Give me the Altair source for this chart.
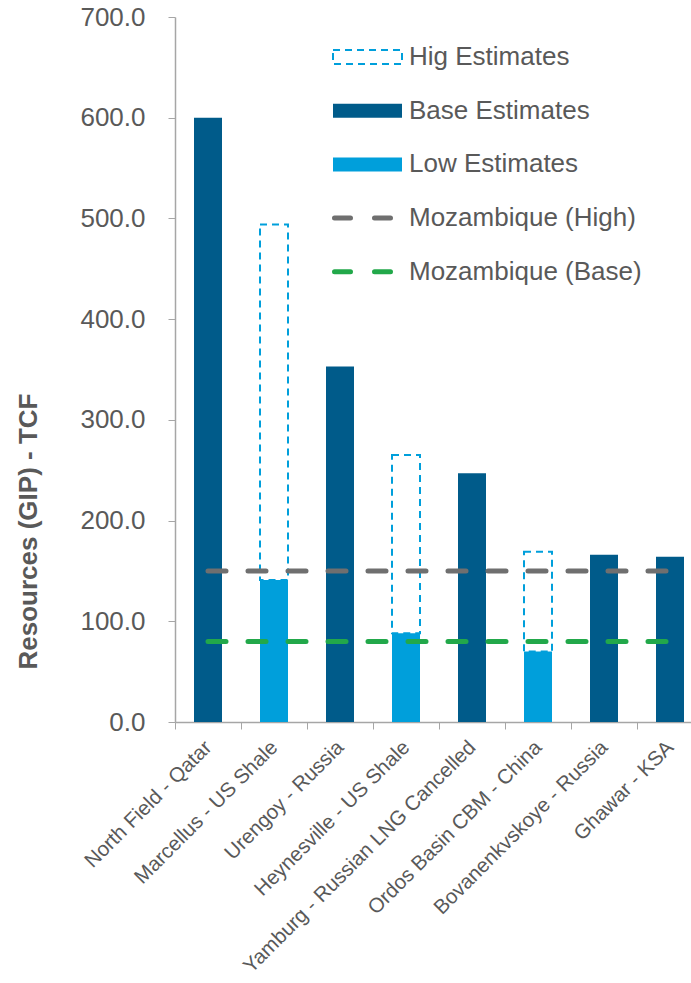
import altair as alt
import pandas as pd

# Gas fields and their resource estimates (TCF)
categories = [
    "North Field - Qatar",
    "Marcellus - US Shale",
    "Urengoy - Russia",
    "Heynesville - US Shale",
    "Yamburg - Russian LNG Cancelled",
    "Ordos Basin CBM - China",
    "Bovanenkvskoye - Russia",
    "Ghawar - KSA",
]
base_estimates = [600, None, 353, None, 247, None, 166, 164]
low_estimates = [None, 141, None, 88, None, 70, None, None]
high_estimates = [None, 494, None, 265, None, 169, None, None]
mozambique_high = 150
mozambique_base = 80

legend_labels = [
    "Hig Estimates",
    "Base Estimates",
    "Low Estimates",
    "Mozambique (High)",
    "Mozambique (Base)",
]

DARK_BLUE = "#005B8A"
LIGHT_BLUE = "#009FDB"
GREY_LINE = "#6F6F6F"
GREEN_LINE = "#22A84A"
TEXT_GREY = "#595959"
AXIS_GREY = "#A6A6A6"

df = pd.DataFrame(
    {
        "field": categories,
        "base": base_estimates,
        "low": low_estimates,
        "high": high_estimates,
        "moz_high": [mozambique_high] * len(categories),
        "moz_base": [mozambique_base] * len(categories),
    }
)

W, H = 516, 705
x_scale = alt.Scale(domain=categories, range=[0, 528], paddingInner=0, paddingOuter=0)
y_scale = alt.Scale(domain=[0, 700], nice=False)

x_enc = alt.X(
    "field:N",
    scale=x_scale,
    sort=categories,
    axis=alt.Axis(
        title=None,
        labelAngle=-45,
        labelAlign="right",
        labelBaseline="middle",
        labelFontSize=20.5,
        labelColor=TEXT_GREY,
        labelPadding=15,
        tickBand="extent",
        tickSize=7,
        tickColor=AXIS_GREY,
        domainColor=AXIS_GREY,
        domainWidth=1.5,
        labelLimit=400,
    ),
)

y_axis = alt.Axis(
    title="Resources (GIP) - TCF",
    values=[0, 100, 200, 300, 400, 500, 600, 700],
    format=".1f",
    labelFontSize=26,
    labelColor=TEXT_GREY,
    labelPadding=23,
    tickSize=7,
    tickColor=AXIS_GREY,
    domainColor=AXIS_GREY,
    domainWidth=1.5,
    grid=False,
    titleFontSize=26,
    titleFontWeight="bold",
    titleColor=TEXT_GREY,
    titleAngle=270,
    titleAlign="center",
    titleBaseline="middle",
    titleX=-147,
    titleY=514,
)

base = alt.Chart(df)

high_bars = base.mark_bar(
    width=28,
    fill=None,
    fillOpacity=0,
    stroke=LIGHT_BLUE,
    strokeWidth=2,
    strokeDash=[7, 5],
).encode(
    x=x_enc,
    y=alt.Y("low:Q", scale=y_scale, axis=y_axis),
    y2="high:Q",
)

base_bars = base.mark_bar(width=28, color=DARK_BLUE).encode(
    x=x_enc, y=alt.Y("base:Q", scale=y_scale, axis=y_axis)
)

low_bars = base.mark_bar(width=28, color=LIGHT_BLUE).encode(
    x=x_enc, y=alt.Y("low:Q", scale=y_scale, axis=y_axis)
)

line_style = dict(strokeWidth=5, strokeDash=[18, 22], strokeCap="round")
moz_high_line = base.mark_line(color=GREY_LINE, **line_style).encode(
    x=x_enc, y=alt.Y("moz_high:Q", scale=y_scale, axis=y_axis)
)
moz_base_line = base.mark_line(color=GREEN_LINE, **line_style).encode(
    x=x_enc, y=alt.Y("moz_base:Q", scale=y_scale, axis=y_axis)
)

# Legend drawn inside the plot, top right
LEG_X0, LEG_X1, LEG_TX = 158, 227, 234
LEG_Y0, LEG_DY, SYM_H = 40, 53.7, 14
leg_rows = []
for i, lab in enumerate(legend_labels):
    yc = LEG_Y0 + i * LEG_DY
    leg_rows.append(
        {"label": lab, "yc": yc, "y0": yc - SYM_H / 2, "y1": yc + SYM_H / 2,
         "x0": LEG_X0, "x1": LEG_X1, "tx": LEG_TX, "lx0": LEG_X0 + 1.5, "lx1": LEG_X0 + 57.5}
    )
leg = pd.DataFrame(leg_rows)
leg_base = alt.Chart(leg)
nos = dict(scale=None)

leg_high = leg_base.transform_filter(alt.datum.label == legend_labels[0]).mark_rect(
    fill=None, fillOpacity=0, stroke=LIGHT_BLUE, strokeWidth=2, strokeDash=[7, 5]
).encode(
    x=alt.X("x0:Q", **nos), x2="x1:Q", y=alt.Y("y0:Q", **nos), y2="y1:Q"
)
leg_rects = leg_base.transform_filter(
    alt.FieldOneOfPredicate(field="label", oneOf=legend_labels[1:3])
).mark_rect().encode(
    x=alt.X("x0:Q", **nos), x2="x1:Q", y=alt.Y("y0:Q", **nos), y2="y1:Q",
    color=alt.Color(
        "label:N",
        scale=alt.Scale(domain=legend_labels[1:3], range=[DARK_BLUE, LIGHT_BLUE]),
        legend=None,
    ),
)
leg_lines = leg_base.transform_filter(
    alt.FieldOneOfPredicate(field="label", oneOf=legend_labels[3:])
).mark_rule(strokeWidth=5, strokeDash=[16, 24], strokeCap="round").encode(
    x=alt.X("lx0:Q", **nos), x2="lx1:Q", y=alt.Y("yc:Q", **nos),
    color=alt.Color(
        "label:N",
        scale=alt.Scale(domain=legend_labels[3:], range=[GREY_LINE, GREEN_LINE]),
        legend=None,
    ),
)
leg_text = leg_base.mark_text(
    align="left", baseline="middle", fontSize=26, color=TEXT_GREY
).encode(x=alt.X("tx:Q", **nos), y=alt.Y("yc:Q", **nos), text="label:N")

chart = (
    alt.layer(
        high_bars, base_bars, low_bars, moz_high_line, moz_base_line,
        leg_high, leg_rects, leg_lines, leg_text,
    )
    .resolve_scale(color="independent")
    .properties(
        width=W,
        height=H,
        autosize=alt.AutoSizeParams(type="none"),
        padding={"left": 175, "top": 17, "right": 0, "bottom": 257},
    )
    .configure(font="Liberation Sans")
    .configure_view(stroke=None)
)

chart.save("out.html", embed_options={"renderer": "svg", "actions": False})
